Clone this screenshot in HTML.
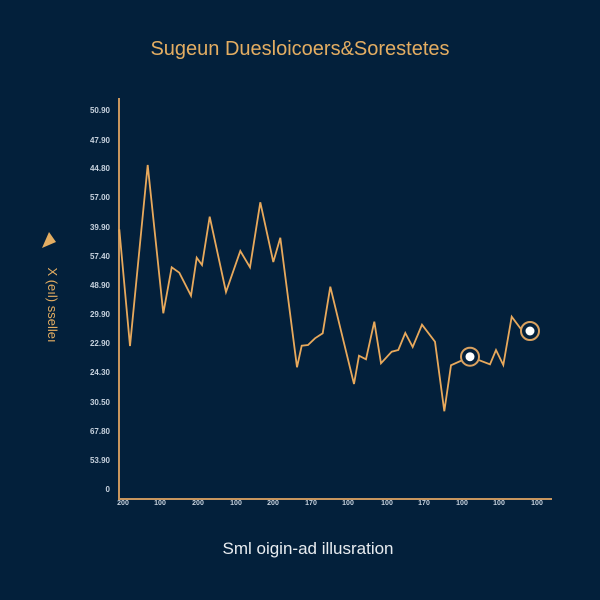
<!DOCTYPE html>
<html><head><meta charset="utf-8"><style>
html,body{margin:0;padding:0;background:#03203b;}
svg{display:block}
</style></head><body>
<svg width="600" height="600" viewBox="0 0 600 600" xmlns="http://www.w3.org/2000/svg">
<rect width="600" height="600" fill="#03203b"/>
<text x="300" y="55" text-anchor="middle" font-family="Liberation Sans, sans-serif" font-size="20" fill="#e3ad62">Sugeun Duesloicoers&amp;Sorestetes</text>
<text x="308" y="554" text-anchor="middle" font-family="Liberation Sans, sans-serif" font-size="17" fill="#e8ecf0">Sml oigin-ad illusration</text>
<polygon points="42,248 56,242 49,232" fill="#e3ad62" transform="rotate(0)"/>
<text transform="translate(48,305) rotate(90)" text-anchor="middle" font-family="Liberation Sans, sans-serif" font-size="13" fill="#e3ad62">X (eıl) sselleı</text>
<g stroke="#c8965e" stroke-width="2" fill="none">
<line x1="119" y1="98" x2="119" y2="499"/>
<line x1="118" y1="499" x2="552" y2="499"/>
</g>
<g font-family="Liberation Sans, sans-serif" font-size="8" font-weight="bold" fill="#c5d0dc" text-anchor="end">
<text x="110" y="113">50.90</text><text x="110" y="143">47.90</text><text x="110" y="171">44.80</text>
<text x="110" y="200">57.00</text><text x="110" y="230">39.90</text><text x="110" y="259">57.40</text>
<text x="110" y="288">48.90</text><text x="110" y="317">29.90</text><text x="110" y="346">22.90</text>
<text x="110" y="375">24.30</text><text x="110" y="405">30.50</text><text x="110" y="434">67.80</text>
<text x="110" y="463">53.90</text><text x="110" y="492">0</text>
</g>
<g font-family="Liberation Sans, sans-serif" font-size="7" font-weight="bold" fill="#c5d0dc" text-anchor="middle">
<text x="123" y="505">200</text><text x="160" y="505">100</text><text x="198" y="505">200</text>
<text x="236" y="505">100</text><text x="273" y="505">200</text><text x="311" y="505">170</text>
<text x="348" y="505">100</text><text x="387" y="505">100</text><text x="424" y="505">170</text>
<text x="462" y="505">100</text><text x="499" y="505">100</text><text x="537" y="505">100</text>
</g>
<polyline fill="none" stroke="#e8a95c" stroke-width="1.8" stroke-linejoin="miter" points="119.3,229.3 130,346 147.7,165 163.3,313.3 171.7,267.3 179.3,272.7 191,295.7 196.7,257.7 202,265 209.7,216.7 226,292 240.3,251 250,267.3 260.3,202.3 273.3,262 280.3,237.7 297,367.3 301.7,345.7 308,345 315,338.3 322.7,333.3 330.3,286.7 340,326.7 354,384 359,355.7 366,359.3 374.3,321.7 381,363.3 391.7,351.7 398.3,350 405.3,333 412.7,347 422,324.7 435,341.7 444.3,411.3 451,365.3 470,356.7 490,364.3 496,350 503.3,365 511.7,316.7 521.7,330 530,331"/>
<circle cx="470" cy="356.7" r="9" fill="#03203b" stroke="#d9a160" stroke-width="2"/>
<circle cx="470" cy="356.7" r="4.5" fill="#fff"/>
<circle cx="530" cy="331" r="9" fill="#03203b" stroke="#d9a160" stroke-width="2"/>
<circle cx="530" cy="331" r="4.5" fill="#fff"/>
</svg>
</body></html>
